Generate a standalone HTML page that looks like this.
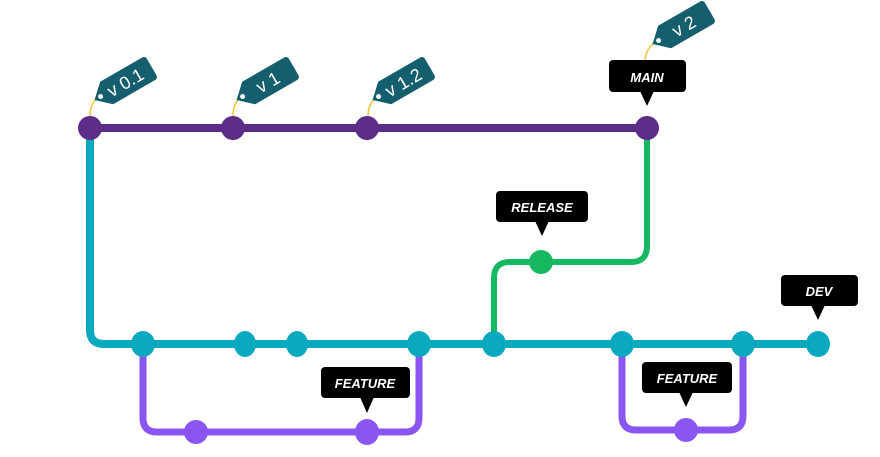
<!DOCTYPE html>
<html><head><style>
body{margin:0;background:#fff;}
svg{display:block}
.lbl{font-family:"Liberation Sans",sans-serif;font-style:italic;font-weight:bold;fill:#fff;font-size:13px;}
.tg{font-family:"Liberation Sans",sans-serif;fill:#fff;font-size:18px;}
</style></head><body>
<svg width="880" height="457" viewBox="0 0 880 457" xmlns="http://www.w3.org/2000/svg">
<defs>
<g id="tag">
<path d="M-4,0 L10,-13 L58,-13 Q62,-13 62,-9 L62,9 Q62,13 58,13 L10,13 Z" fill="#155e6e"/>
<circle cx="3" cy="0" r="2.5" fill="#fff"/>
</g>
</defs>
<path d="M90,128 L90,330 Q90,344 104,344 L818,344" stroke="#0aa9bf" stroke-width="8" fill="none"/>
<path d="M494,344 L494,278 Q494,262 510,262 L631,262 Q647,262 647,246 L647,128" stroke="#16b862" stroke-width="6" fill="none"/>
<line x1="90" y1="128" x2="647" y2="128" stroke="#5b2d86" stroke-width="8"/>
<path d="M143,344 L143,418 Q143,432 157,432 L405,432 Q419,432 419,418 L419,344" stroke="#8b55f2" stroke-width="7" fill="none"/>
<path d="M622,344 L622,416 Q622,430 636,430 L729,430 Q743,430 743,416 L743,344" stroke="#8b55f2" stroke-width="7" fill="none"/>
<g stroke="#f0c43a" stroke-width="1.5" fill="none">
<path d="M98,98 Q90,104 90,116"/>
<path d="M240,98 Q233,104 233,116"/>
<path d="M376,98 Q368,104 368,116"/>
<path d="M656,42 Q646,48 645,60"/>
</g>
<g fill="#5b2d86"><circle cx="90" cy="128" r="12"/><circle cx="233" cy="128" r="12"/><circle cx="367" cy="128" r="12"/><circle cx="647" cy="128" r="12"/></g>
<g fill="#0aa9bf">
<ellipse cx="143" cy="344" rx="12" ry="13"/><ellipse cx="245" cy="344" rx="11" ry="13"/><ellipse cx="297" cy="344" rx="11" ry="13"/><ellipse cx="419" cy="344" rx="12" ry="13"/><ellipse cx="494" cy="344" rx="12" ry="13"/><ellipse cx="622" cy="344" rx="12" ry="13"/><ellipse cx="743" cy="344" rx="12" ry="13"/><ellipse cx="818" cy="344" rx="12" ry="13"/>
</g>
<circle cx="541" cy="262" r="12" fill="#16b862"/>
<g fill="#8b55f2"><ellipse cx="196" cy="432" rx="12" ry="12"/><ellipse cx="367" cy="432" rx="12" ry="13"/><ellipse cx="686" cy="430" rx="12" ry="12"/></g>
<g transform="translate(98,98) rotate(-30)"><use href="#tag"/><text class="tg" x="12" y="6.5">v 0.1</text></g>
<g transform="translate(240,98) rotate(-30)"><use href="#tag"/><text class="tg" x="20" y="6.5">v 1</text></g>
<g transform="translate(376,98) rotate(-30)"><use href="#tag"/><text class="tg" x="12" y="6.5">v 1.2</text></g>
<g transform="translate(656,42) rotate(-30)"><use href="#tag"/><text class="tg" x="20" y="6.5">v 2</text></g>
<g fill="#000">
<rect x="609" y="60" width="77" height="32" rx="4"/><path d="M640,91 L654,91 L647,106 Z"/>
<rect x="496" y="191" width="92" height="31" rx="4"/><path d="M535,221 L549,221 L542,236 Z"/>
<rect x="781" y="275" width="77" height="31" rx="4"/><path d="M811,305 L825,305 L818,320 Z"/>
<rect x="321" y="367" width="89" height="31" rx="4"/><path d="M360,397 L374,397 L367,413 Z"/>
<rect x="642" y="362" width="90" height="31" rx="4"/><path d="M679,392 L693,392 L686,407 Z"/>
</g>
<text class="lbl" x="647" y="82" text-anchor="middle">MAIN</text>
<text class="lbl" x="542" y="212" text-anchor="middle">RELEASE</text>
<text class="lbl" x="819" y="296" text-anchor="middle">DEV</text>
<text class="lbl" x="365" y="388" text-anchor="middle">FEATURE</text>
<text class="lbl" x="687" y="383" text-anchor="middle">FEATURE</text>
</svg>
</body></html>
